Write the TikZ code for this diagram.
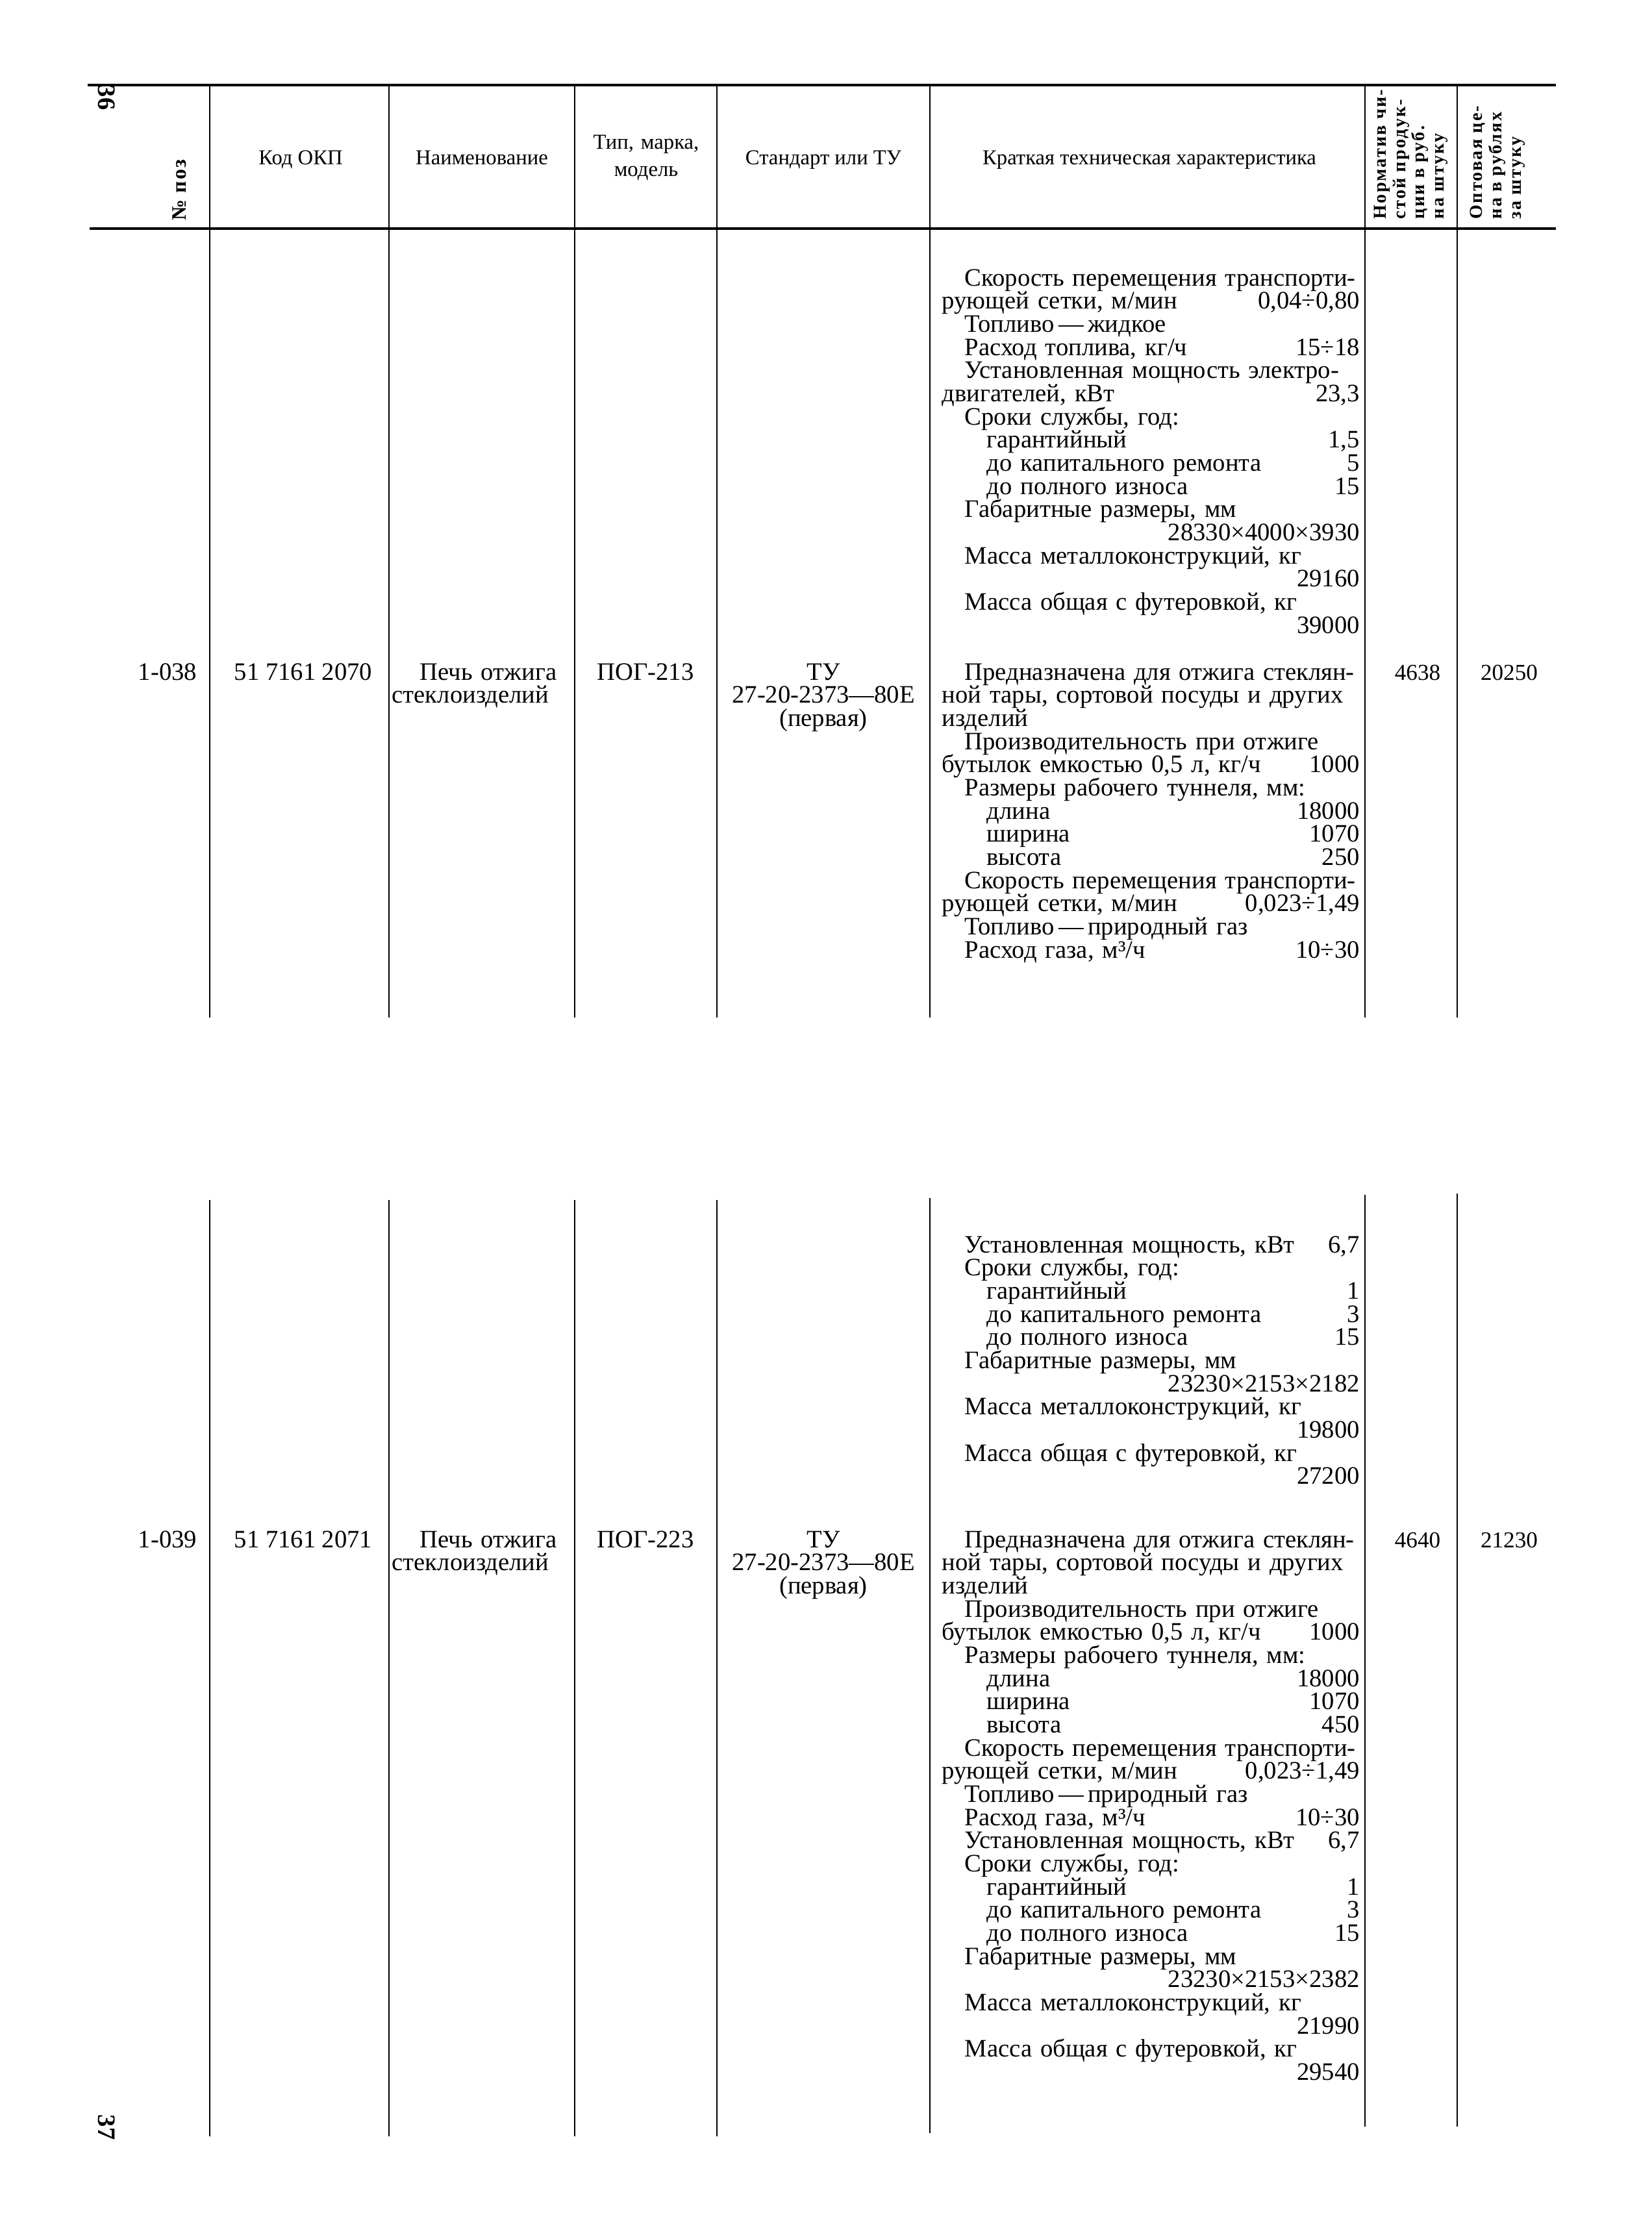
\documentclass[tikz,border=0pt]{standalone}
\usepackage{fontspec}
\setmainfont{Liberation Serif}
\newfontfamily\headfont[LetterSpace=8.0]{Liberation Serif}
\usepackage{tikz}
\tikzstyle{hrule} = [line width=1.1pt]
\tikzstyle{colline} = [line width=0.7pt]
\tikzstyle{headtext} = [inner sep=0pt, align=center, anchor=base, font=\fontsize{9.3}{12.2}\selectfont]
\tikzstyle{rothead} = [inner sep=0pt, align=left, rotate=90, anchor=north west, font=\headfont\bfseries\fontsize{8}{8.5}\selectfont]
\tikzstyle{celltext} = [inner sep=0pt, anchor=base, font=\fontsize{11}{10.15}\selectfont]
\tikzstyle{pricetext} = [inner sep=0pt, anchor=base, font=\fontsize{10}{12}\selectfont]
\tikzstyle{spectext} = [inner sep=0pt, text width=6.43cm, align=left, anchor=base west, font={\fontsize{11}{10.15}\selectfont\lineskiplimit=-\maxdimen}]
\tikzstyle{pagenum} = [inner sep=0pt, rotate=-90, font=\bfseries\fontsize{11}{13}\selectfont]
\newcommand{\spread}[1]{\makebox[\linewidth][s]{#1}}
\newcommand{\param}[3]{\makebox[\linewidth][l]{\hspace*{#1}#2\hfill#3}}
\newcommand{\inda}{0.35cm}
\newcommand{\indb}{0.69cm}

\begin{document}
\begin{tikzpicture}[x=1cm, y=-1cm]
      \fill[white] (0, 0) rectangle (25.44, 34.25);
      \useasboundingbox (0, 0) rectangle (25.44, 34.25);
      % page numbers
      \node (pg36) at (1.64, 1.50) [pagenum] {36};
      \node (pg37) at (1.64, 32.76) [pagenum] {37};
      % header rules and column lines
      \draw[hrule] (1.35, 1.31) -- (23.96, 1.31);
      \draw[hrule] (1.38, 3.52) -- (23.96, 3.52);
      \draw[colline] (3.23, 1.31) -- (3.23, 3.52)  (5.99, 1.31) -- (5.99, 3.52)  (8.85, 1.31) -- (8.85, 3.52)
                     (11.04, 1.31) -- (11.04, 3.52)  (14.32, 1.31) -- (14.32, 3.52)
                     (21.02, 1.31) -- (21.02, 3.52)  (22.44, 1.31) -- (22.44, 3.52);
      \node (h-pos) at (2.76, 3.40) [rothead, anchor=west, font=\headfont\bfseries\fontsize{9}{10}\selectfont] {№ поз};
      \node (h-code) at (4.63, 2.53) [headtext] {Код ОКП};
      \node (h-name) at (7.42, 2.53) [headtext] {Наименование};
      \node (h-type) at (9.95, 2.29) [headtext, text width=2cm] {Тип, марка,\\модель};
      \node (h-std) at (12.68, 2.53) [headtext] {Стандарт или ТУ};
      \node (h-spec) at (17.70, 2.53) [headtext] {Краткая техническая характеристика};
      \node (h-norm) at (21.15, 3.38) [rothead] {Норматив чи-\\стой продук-\\ции в руб.\\на штуку};
      \node (h-price) at (22.63, 3.38) [rothead] {Оптовая це-\\на в рублях\\за штуку};

      % row 1-038
      \draw[colline] (3.23, 3.52) -- (3.23, 15.67)  (5.99, 3.52) -- (5.99, 15.67)  (8.85, 3.52) -- (8.85, 15.67)
                     (11.04, 3.52) -- (11.04, 15.67)  (14.32, 3.52) -- (14.32, 15.67)
                     (21.02, 3.52) -- (21.02, 15.67)  (22.44, 3.52) -- (22.44, 15.67);
      \node (r1-pos) at (2.58, 10.47) [celltext] {1-038};
      \node (r1-code) at (4.67, 10.47) [celltext] {51 7161 2070};
      \node (r1-name) at (6.03, 10.47) [celltext, anchor=base west, text width=2.8cm, align=left] {\hspace*{0.43cm}Печь отжига\\стеклоизделий};
      \node (r1-type) at (9.94, 10.47) [celltext] {ПОГ-213};
      \node (r1-std) at (12.68, 10.47) [celltext, text width=3.2cm, align=center] {ТУ\\27-20-2373—80Е\\(первая)};
      \node (r1-spec-a) at (14.50, 4.40) [spectext]
            {\spread{\hspace*{\inda}Скорость перемещения транспорти-}\\
             \param{0pt}{рующей сетки, м/мин}{0,04÷0,80}\\
             \param{\inda}{Топливо\,—\,жидкое}{}\\
             \param{\inda}{Расход топлива, кг/ч}{15÷18}\\
             \spread{\hspace*{\inda}Установленная мощность электро-}\\
             \param{0pt}{двигателей, кВт}{23,3}\\
             \param{\inda}{Сроки службы, год:}{}\\
             \param{\indb}{гарантийный}{1,5}\\
             \param{\indb}{до капитального ремонта}{5}\\
             \param{\indb}{до полного износа}{15}\\
             \param{\inda}{Габаритные размеры, мм}{}\\
             \param{0pt}{}{28330×4000×3930}\\
             \param{\inda}{Масса металлоконструкций, кг}{}\\
             \param{0pt}{}{29160}\\
             \param{\inda}{Масса общая с футеровкой, кг}{}\\
             \param{0pt}{}{39000}};
      \node (r1-spec-b) at (14.50, 10.47) [spectext]
            {\spread{\hspace*{\inda}Предназначена для отжига стеклян-}\\
             \spread{ной тары, сортовой посуды и других}\\
             \param{0pt}{изделий}{}\\
             \spread{\hspace*{\inda}Производительность при отжиге}\\
             \param{0pt}{бутылок емкостью 0,5 л, кг/ч}{1000}\\
             \param{\inda}{Размеры рабочего туннеля, мм:}{}\\
             \param{\indb}{длина}{18000}\\
             \param{\indb}{ширина}{1070}\\
             \param{\indb}{высота}{250}\\
             \spread{\hspace*{\inda}Скорость перемещения транспорти-}\\
             \param{0pt}{рующей сетки, м/мин}{0,023÷1,49}\\
             \param{\inda}{Топливо\,—\,природный газ}{}\\
             \param{\inda}{Расход газа, м³/ч}{10÷30}};
      \node (r1-norm) at (21.83, 10.47) [pricetext] {4638};
      \node (r1-price) at (23.24, 10.47) [pricetext] {20250};

      % row 1-039
      \draw[colline] (3.23, 18.48) -- (3.23, 32.90)  (5.99, 18.48) -- (5.99, 32.90)  (8.85, 18.48) -- (8.85, 32.90)
                     (11.04, 18.48) -- (11.04, 32.90)  (14.32, 18.45) -- (14.32, 32.85)
                     (21.02, 18.40) -- (21.02, 32.75)  (22.44, 18.38) -- (22.44, 32.75);
      \node (r2-pos) at (2.58, 23.83) [celltext] {1-039};
      \node (r2-code) at (4.67, 23.83) [celltext] {51 7161 2071};
      \node (r2-name) at (6.03, 23.83) [celltext, anchor=base west, text width=2.8cm, align=left] {\hspace*{0.43cm}Печь отжига\\стеклоизделий};
      \node (r2-type) at (9.94, 23.83) [celltext] {ПОГ-223};
      \node (r2-std) at (12.68, 23.83) [celltext, text width=3.2cm, align=center] {ТУ\\27-20-2373—80Е\\(первая)};
      \node (r2-spec-a) at (14.50, 19.29) [spectext]
            {\param{\inda}{Установленная мощность, кВт}{6,7}\\
             \param{\inda}{Сроки службы, год:}{}\\
             \param{\indb}{гарантийный}{1}\\
             \param{\indb}{до капитального ремонта}{3}\\
             \param{\indb}{до полного износа}{15}\\
             \param{\inda}{Габаритные размеры, мм}{}\\
             \param{0pt}{}{23230×2153×2182}\\
             \param{\inda}{Масса металлоконструкций, кг}{}\\
             \param{0pt}{}{19800}\\
             \param{\inda}{Масса общая с футеровкой, кг}{}\\
             \param{0pt}{}{27200}};
      \node (r2-spec-b) at (14.50, 23.83) [spectext]
            {\spread{\hspace*{\inda}Предназначена для отжига стеклян-}\\
             \spread{ной тары, сортовой посуды и других}\\
             \param{0pt}{изделий}{}\\
             \spread{\hspace*{\inda}Производительность при отжиге}\\
             \param{0pt}{бутылок емкостью 0,5 л, кг/ч}{1000}\\
             \param{\inda}{Размеры рабочего туннеля, мм:}{}\\
             \param{\indb}{длина}{18000}\\
             \param{\indb}{ширина}{1070}\\
             \param{\indb}{высота}{450}\\
             \spread{\hspace*{\inda}Скорость перемещения транспорти-}\\
             \param{0pt}{рующей сетки, м/мин}{0,023÷1,49}\\
             \param{\inda}{Топливо\,—\,природный газ}{}\\
             \param{\inda}{Расход газа, м³/ч}{10÷30}\\
             \param{\inda}{Установленная мощность, кВт}{6,7}\\
             \param{\inda}{Сроки службы, год:}{}\\
             \param{\indb}{гарантийный}{1}\\
             \param{\indb}{до капитального ремонта}{3}\\
             \param{\indb}{до полного износа}{15}\\
             \param{\inda}{Габаритные размеры, мм}{}\\
             \param{0pt}{}{23230×2153×2382}\\
             \param{\inda}{Масса металлоконструкций, кг}{}\\
             \param{0pt}{}{21990}\\
             \param{\inda}{Масса общая с футеровкой, кг}{}\\
             \param{0pt}{}{29540}};
      \node (r2-norm) at (21.83, 23.83) [pricetext] {4640};
      \node (r2-price) at (23.24, 23.83) [pricetext] {21230};
\end{tikzpicture}
\end{document}
